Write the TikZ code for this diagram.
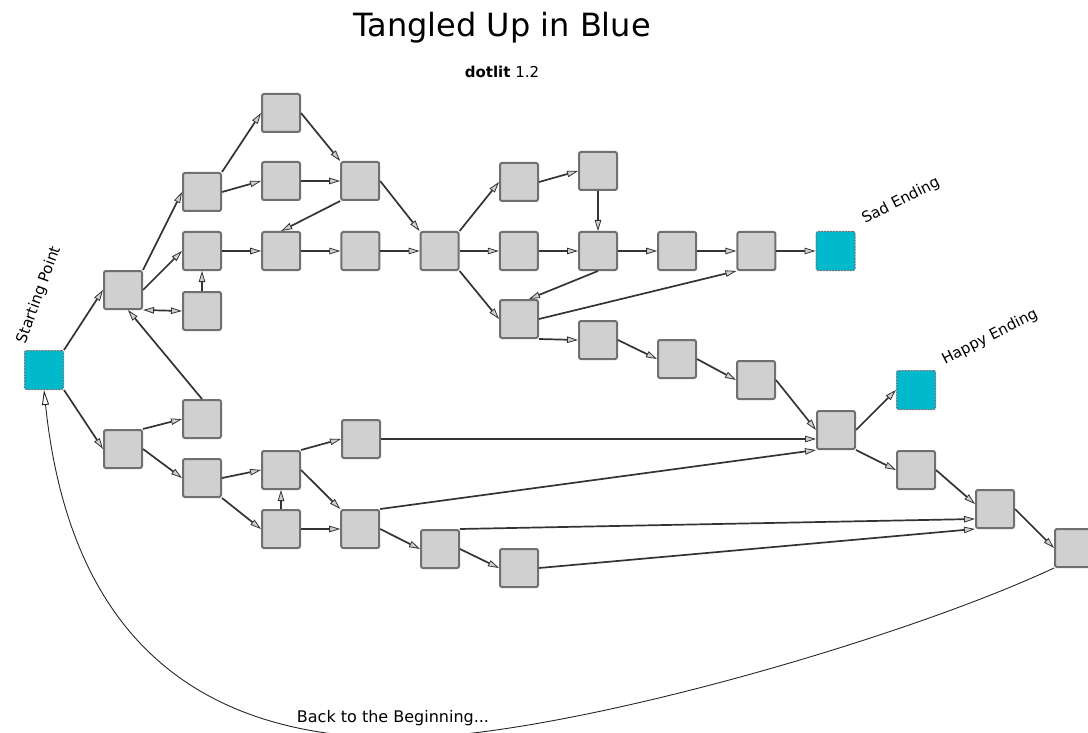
\documentclass[tikz,border=0pt]{standalone}
\usepackage{fontspec}
\setmainfont{DejaVu Sans}
\usetikzlibrary{arrows.meta,positioning}
\definecolor{boxgray}{HTML}{D0D0D0}
\definecolor{boxedge}{HTML}{707070}
\definecolor{endcyan}{HTML}{00B9CC}
\tikzset{%
         box/.style = { draw=boxedge, fill=boxgray, line width=2pt, rounded corners=2pt, minimum size=38pt, inner sep=0pt },
      ending/.style = { box, line width=1pt, minimum size=39pt, dash pattern=on 2pt off 1pt, fill=endcyan },
        link/.style = { ->, draw=black!80, line width=1.7pt },
      twoway/.style = { link, <-> },
    loopback/.style = { draw=black!85, line width=0.9pt, -{Triangle[open, length=15pt, width=7pt, line width=0.9pt]} },
     caption/.style = { font=\fontsize{15}{18}\selectfont, inner sep=0pt },
    headline/.style = { font=\fontsize{32}{38}\selectfont, inner sep=0pt }
}

\begin{document}
\begin{tikzpicture}[x=1pt, y=-1pt, on grid, node distance=79.2pt,
    >={Triangle[length=11pt, width=6.5pt, fill=boxgray, line width=0.8pt]}]
  \useasboundingbox (0,0) rectangle (1088,733);
  \clip (0,0) rectangle (1088,733);

  \node[headline] (title) at (502,28) {Tangled Up in Blue};
  \node[font=\fontsize{15}{18}\selectfont, inner sep=0pt] (version) at (502,72) {\textbf{dotlit} 1.2};

  \node[ending] (start) at (44,370) {};
  \node[box] (a1) at (123,290) {};
  \node[box] (a2) at (123,449) {};
  \node[box] (b1) at (202,192) {};
  \node[box] (b2) at (202,251) {};
  \node[box, below=60pt of b2] (b3) {};
  \node[box] (b4) at (202,419) {};
  \node[box] (b5) at (202,478) {};
  \node[box] (c1) at (281,113) {};
  \node[box] (c2) at (281,181) {};
  \node[box, right=of c2] (d1) {};
  \node[box, right=of b2] (c3) {};
  \node[box, right=of c3] (d2) {};
  \node[box, right=of d2] (e1) {};
  \node[box, right=of e1] (f2) {};
  \node[box, right=of f2] (g2) {};
  \node[box, right=of g2] (h1) {};
  \node[box, right=of h1] (i1) {};
  \node[ending, right=of i1] (sad) {};
  \node[box] (f1) at (519,182) {};
  \node[box, above=80pt of g2] (g1) {};
  \node[box] (f3) at (519,319) {};
  \node[box] (g3) at (598,340) {};
  \node[box] (h2) at (677,359) {};
  \node[box] (i2) at (756,380) {};
  \node[box] (j1) at (836,430) {};
  \node[ending] (happy) at (916,390) {};
  \node[box] (k1) at (916,470) {};
  \node[box] (l1) at (995,509) {};
  \node[box] (m1) at (1074,548) {};
  \node[box] (c4) at (281,470) {};
  \node[box, below=59pt of c4] (c5) {};
  \node[box] (d3) at (361,439) {};
  \node[box, right=of c5] (d4) {};
  \node[box] (e2) at (440,549) {};
  \node[box] (f4) at (519,568) {};

  \node[caption, rotate=70] (startlabel) at (39,295) {Starting Point};
  \node[caption, rotate=27] (sadlabel) at (901,201) {Sad Ending};
  \node[caption, rotate=27] (happylabel) at (990,337) {Happy Ending};
  \node[caption, font=\fontsize{16}{19}\selectfont] (backlabel) at (393,718) {Back to the Beginning...};

  \draw[link] (start.north east) -- (a1.west);
  \draw[link] (start.south east) -- (a2.west);
  \draw[link] (a1.north east) -- (b1.west);
  \draw[link] (a1.east) -- (b2.west);
  \draw[twoway] (a1.south east) -- (b3.west);
  \draw[link] (b3) -- (b2);
  \draw[link] (b4.north) -- ([xshift=5pt]a1.south);
  \draw[link] (b1.north east) -- (c1.west);
  \draw[link] (b1.east) -- (c2.west);
  \draw[link] (c1.east) -- (d1.north west);
  \draw[link] (c2) -- (d1);
  \draw[link] (d1.south west) -- (c3.north);
  \draw[link] (b2) -- (c3);
  \draw[link] (c3) -- (d2);
  \draw[link] (d2) -- (e1);
  \draw[link] (d1.east) -- (e1.north west);
  \draw[link] (e1.north east) -- (f1.west);
  \draw[link] (e1) -- (f2);
  \draw[link] (e1.south east) -- (f3.west);
  \draw[link] (f1.east) -- (g1.west);
  \draw[link] (g1) -- (g2);
  \draw[link] (f2) -- (g2);
  \draw[link] (g2.south) -- ([xshift=10pt]f3.north);
  \draw[link] (g2) -- (h1);
  \draw[link] (h1) -- (i1);
  \draw[link] (i1) -- (sad);
  \draw[link] (f3.east) -- (i1.south west);
  \draw[link] (f3.south east) -- (g3.west);
  \draw[link] (g3.east) -- (h2.west);
  \draw[link] (h2.east) -- (i2.west);
  \draw[link] (i2.east) -- (j1.west);
  \draw[link] (j1.east) -- (happy.west);
  \draw[link] (j1.south east) -- (k1.west);
  \draw[link] (k1.east) -- ([yshift=5pt]l1.west);
  \draw[link] (l1.east) -- (m1.west);
  \draw[link] (a2.north east) -- (b4.west);
  \draw[link] (a2.east) -- (b5.west);
  \draw[link] (b5.east) -- (c4.west);
  \draw[link] (b5.south east) -- (c5.west);
  \draw[link] (c5) -- (c4);
  \draw[link] (c4.north east) -- (d3.west);
  \draw[link] (c4.east) -- (d4.north west);
  \draw[link] (c5) -- (d4);
  \draw[link] (d3.east) -- (d3.east -| j1.west);
  \draw[link] (d4.north east) -- (j1.south west);
  \draw[link] (d4.east) -- (e2.west);
  \draw[link] (e2.north east) -- ([yshift=-10pt]l1.west);
  \draw[link] (e2.east) -- (f4.west);
  \draw[link] (f4.east) -- ([yshift=-20pt]l1.west);

  \draw[loopback] (m1.south west) .. controls (900,640) and (560,738) .. (400,738)
    .. controls (200,738) and (70,640) .. (start.south);
\end{tikzpicture}
\end{document}
